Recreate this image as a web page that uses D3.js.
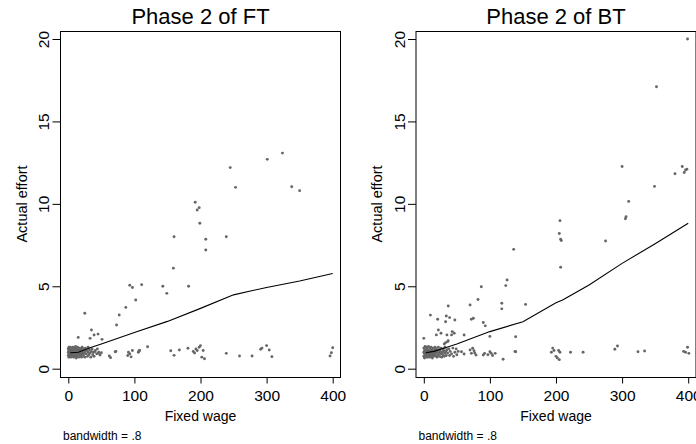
<!DOCTYPE html>
<html>
<head>
<meta charset="utf-8">
<script src="https://cdn.jsdelivr.net/npm/d3@7"></script>
<style>
  body { margin: 0; padding: 0; background: #fff; font-family: "Liberation Sans", Arial, sans-serif; }
  svg { display: block; }
</style>
</head>
<body>
<div id="chart"></div>
<script>
// panel titles and tick values
var panelTitles = ["Phase 2 of FT", "Phase 2 of BT"];
var xTicks = [0, 100, 200, 300, 400];
var yTicks = [0, 5, 10, 15, 20];

// Phase 2 of FT: [fixed wage, actual effort]
var ftPoints = [
  [0,1.0],[0,0.8],[0,1.2],[1,0.9],[1,1.1],[1,0.7],[1,1.3],[2,1.0],[2,0.85],[2,1.2],
  [3,0.75],[3,1.05],[3,1.3],[4,0.95],[4,1.15],[4,0.7],[5,1.0],[5,0.85],[5,1.25],[6,1.1],
  [6,0.75],[6,0.95],[7,1.3],[7,1.0],[7,0.8],[8,1.15],[8,0.9],[8,0.7],[9,1.05],[9,1.25],
  [9,0.85],[10,0.95],[10,1.2],[10,0.75],[11,1.1],[11,0.9],[11,1.35],[12,1.0],[12,0.8],[12,0.65],
  [13,1.2],[13,0.95],[14,1.05],[14,0.75],[14,1.3],[15,0.9],[15,1.15],[16,1.0],[16,0.7],[17,1.25],
  [17,0.85],[18,1.1],[18,0.95],[19,0.8],[19,1.2],[20,1.0],[20,0.7],[21,1.3],[21,0.9],[22,1.1],
  [23,0.8],[23,1.2],[24,0.95],[25,1.05],[25,0.7],[26,1.25],[27,0.9],[28,1.1],[29,0.75],[30,1.0],
  [30,1.3],[31,0.85],[32,1.15],[33,0.95],[34,0.7],[35,1.05],[36,1.2],[37,0.85],[38,1.0],[39,0.75],
  [40,1.03],[41,1.1],[43,0.9],[44,1.2],[45,0.93],[46,1.0],[48,0.83],[50,0.97],[62,0.77],[64,0.67],
  [71,1.03],[72,1.05],[90,0.8],[91,1.0],[93,0.9],[95,0.72],[97,1.1],[106,1.0],[107,1.09],[108,1.1],
  [120,1.33],[155,1.09],[160,0.81],[168,1.13],[181,1.24],[189,1.05],[191,0.95],[193,1.2],[195,1.1],
  [198,1.3],[200,1.4],[202,0.7],[204,1.1],[206,0.6],[239,0.93],[259,0.77],[278,0.77],[291,1.18],
  [293,1.25],[300,1.4],[304,1.13],[308,0.73],[396,0.77],[398,0.97],[400,1.27],
  [15,1.9],[25,3.36],[33,1.84],[35,2.35],[39,2.04],[45,2.1],[51,1.78],[73,2.65],[77,3.26],[87,3.72],
  [93,5.06],[97,4.93],[102,4.17],[111,5.1],[143,5.0],[149,4.57],[159,6.1],[160,8.0],[182,5.0],
  [192,10.1],[195,9.63],[198,9.77],[199,8.82],[208,7.85],[208,7.2],[239,8.0],[245,12.2],[253,11.0],
  [301,12.7],[324,13.08],[338,11.04],[350,10.8]
];
var ftLowessX = [3, 15, 35, 50, 100, 150, 200, 250, 300, 350, 400];
var ftLowessY = [0.97, 1.0, 1.3, 1.5, 2.2, 2.87, 3.66, 4.48, 4.93, 5.32, 5.78];

// Phase 2 of BT: [fixed wage, actual effort]
var btPoints = [
  [0,1.0],[0,0.75],[0,1.25],[1,0.9],[1,1.1],[1,0.65],[2,1.35],[2,1.0],[2,0.8],[3,1.15],
  [3,0.9],[4,1.05],[4,0.7],[4,1.3],[5,0.85],[5,1.2],[6,1.0],[6,0.7],[7,1.1],[7,0.9],
  [7,1.35],[8,0.8],[8,1.05],[9,1.25],[9,0.95],[9,0.7],[10,1.1],[10,0.85],[11,1.0],[11,1.3],
  [11,0.75],[12,0.9],[12,1.15],[13,1.05],[13,0.65],[14,1.25],[14,0.85],[15,1.0],[15,0.75],[16,1.15],
  [16,0.9],[17,1.3],[17,1.05],[18,0.8],[18,0.95],[19,1.2],[20,1.0],[20,0.7],[21,1.1],[22,0.85],
  [22,1.3],[23,0.95],[24,1.15],[24,0.75],[25,1.05],[26,0.9],[26,1.25],[27,0.7],[28,1.0],[29,1.2],
  [29,0.85],[30,1.1],[31,0.75],[32,0.95],[32,1.3],[33,1.05],[34,0.8],[35,1.15],[36,0.95],[38,1.2],
  [39,0.8],[40,1.05],[42,0.9],[44,1.25],[45,0.75],[47,1.0],[49,1.2],[50,0.85],[52,1.05],
  [57,1.03],[61,0.89],[70,1.13],[72,0.93],[74,1.24],[76,1.09],[77,0.95],[79,0.83],[90,0.83],[92,0.93],
  [97,0.85],[100,1.03],[102,0.93],[104,0.8],[108,0.93],[120,0.57],[138,1.05],[139,1.03],
  [193,1.0],[195,1.25],[197,1.1],[200,0.75],[202,0.65],[204,1.1],[205,0.55],[206,1.0],[222,1.0],
  [241,1.0],[289,1.18],[293,1.38],[324,1.03],[334,1.07],[393,1.05],[396,1.0],[399,1.3],[401,0.93],
  [0,1.84],[10,3.25],[19,2.05],[21,3.0],[22,2.35],[26,2.15],[31,1.5],[33,1.58],[33,2.85],[34,3.2],
  [35,2.05],[36,1.64],[37,1.7],[37,3.8],[39,3.1],[42,2.05],[43,2.25],[46,2.15],[47,2.95],[61,2.04],
  [70,3.86],[72,3.0],[75,3.06],[82,4.2],[87,4.97],[90,2.8],[93,2.6],[100,1.96],[118,3.97],[118,3.63],
  [124,5.04],[126,5.38],[136,7.24],[139,1.94],[154,3.9],[205,8.2],[206,8.98],[207,7.85],[207,6.15],
  [208,7.77],[275,7.75],[300,12.27],[305,9.1],[306,9.22],[310,10.15],[349,11.06],[352,17.1],
  [380,11.83],[391,12.27],[394,11.9],[396,12.05],[398,12.1],[399,20.0]
];
var btLowessX = [3, 15, 35, 50, 100, 150, 200, 210, 250, 300, 350, 400];
var btLowessY = [0.97, 1.05, 1.3, 1.5, 2.25, 2.85, 4.0, 4.17, 5.08, 6.39, 7.58, 8.82];

var W = 696, H = 444;
var svg = d3.select("#chart").append("svg")
  .attr("width", W).attr("height", H);

var panels = [
  { title: panelTitles[0], points: ftPoints, lx: ftLowessX, ly: ftLowessY, ox: 0 },
  { title: panelTitles[1], points: btPoints, lx: btLowessX, ly: btLowessY, ox: 355.5 }
];

var FRAME = { left: 60.5, top: 31, width: 280, height: 346 };

function drawPanel(p) {
  var g = svg.append("g").attr("transform", "translate(" + p.ox + ",0)");

  var x = d3.scaleLinear().domain([0, 400]).range([68.3, 332.7]);
  var y = d3.scaleLinear().domain([0, 20]).range([368.7, 39]);

  // frame
  g.append("rect")
    .attr("x", FRAME.left).attr("y", FRAME.top + 0.5)
    .attr("width", FRAME.width).attr("height", FRAME.height)
    .attr("fill", "none").attr("stroke", "#000").attr("stroke-width", 1);

  // x axis
  var xAxis = g.append("g")
    .attr("transform", "translate(0," + (FRAME.top + FRAME.height + 0.5) + ")")
    .call(d3.axisBottom(x).tickValues(xTicks).tickSize(6).tickPadding(6).tickFormat(d3.format("d")));
  xAxis.select(".domain").remove();
  xAxis.selectAll("text")
    .attr("font-family", "Liberation Sans, Arial, sans-serif")
    .attr("font-size", "15.5px").attr("fill", "#000");

  // y axis
  var yAxis = g.append("g")
    .attr("transform", "translate(" + FRAME.left + ",0)")
    .call(d3.axisLeft(y).tickValues(yTicks).tickSize(8).tickFormat(d3.format("d")));
  yAxis.select(".domain").remove();
  yAxis.selectAll("text")
    .attr("font-family", "Liberation Sans, Arial, sans-serif")
    .attr("font-size", "15.5px").attr("fill", "#000")
    .attr("text-anchor", "middle")
    .attr("dy", null)
    .attr("x", null)
    .attr("transform", "translate(-11.5,0) rotate(-90)");

  // scatter points
  g.append("g").selectAll("circle")
    .data(p.points)
    .enter().append("circle")
    .attr("cx", function(d) { return x(d[0]); })
    .attr("cy", function(d) { return y(d[1]); })
    .attr("r", 1.45)
    .attr("fill", "#666");

  // lowess line
  var line = d3.line()
    .x(function(d) { return x(d[0]); })
    .y(function(d) { return y(d[1]); });
  g.append("path")
    .datum(p.lx.map(function(v, i) { return [v, p.ly[i]]; }))
    .attr("d", line)
    .attr("fill", "none").attr("stroke", "#000").attr("stroke-width", 1.1);

  // titles
  var cx = FRAME.left + FRAME.width / 2;
  g.append("text")
    .attr("x", cx).attr("y", 24)
    .attr("text-anchor", "middle")
    .attr("font-size", "22px")
    .text(p.title);

  g.append("text")
    .attr("x", cx).attr("y", 420.5)
    .attr("text-anchor", "middle")
    .attr("font-size", "14px")
    .text("Fixed wage");

  g.append("text")
    .attr("transform", "translate(26.5," + (FRAME.top + FRAME.height / 2) + ") rotate(-90)")
    .attr("text-anchor", "middle")
    .attr("font-size", "14.5px")
    .text("Actual effort");

  g.append("text")
    .attr("x", FRAME.left + 2.5).attr("y", 439.5)
    .attr("font-size", "12px")
    .text("bandwidth = .8");
}

panels.forEach(drawPanel);
</script>
</body>
</html>
